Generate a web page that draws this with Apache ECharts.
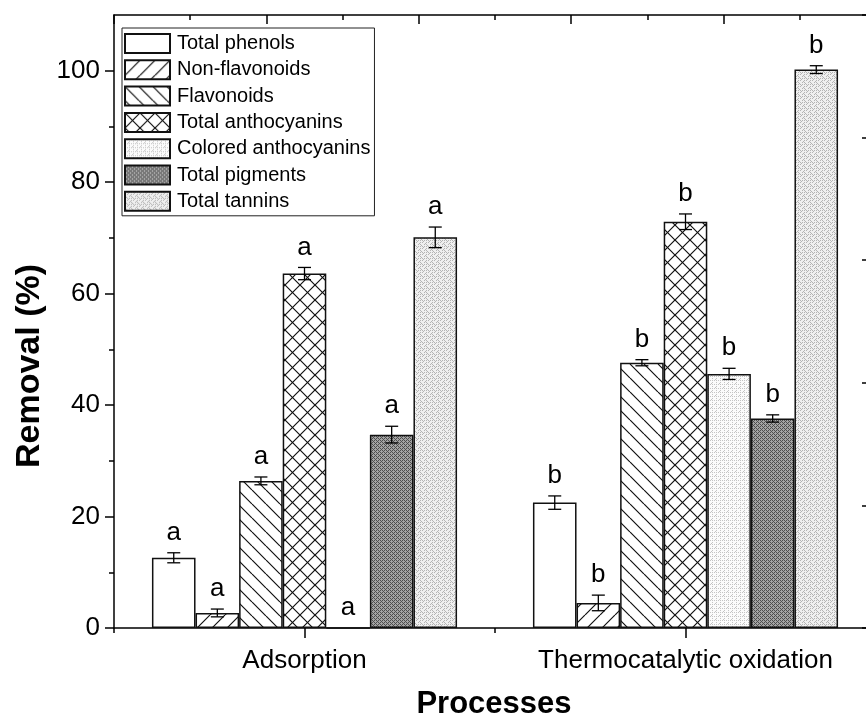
<!DOCTYPE html>
<html>
<head>
<meta charset="utf-8">
<script src="https://cdn.jsdelivr.net/npm/echarts@6/dist/echarts.min.js"></script>
<style>
  html, body { margin: 0; padding: 0; background: #fff; }
  #chart { width: 866px; height: 720px; }
</style>
</head>
<body>
<div id="chart"></div>
<script>
// Processes on the category axis
const processes = ['Adsorption', 'Thermocatalytic oxidation'];

// Removal (%) for each fraction: [Adsorption, Thermocatalytic oxidation]
const totalPhenols        = [12.6, 22.5];
const nonFlavonoids       = [2.7, 4.5];
const flavonoids          = [26.4, 47.6];
const totalAnthocyanins   = [63.6, 72.9];
const coloredAnthocyanins = [0.0, 45.6];
const totalPigments       = [34.7, 37.6];
const totalTannins        = [70.1, 100.2];

// Standard deviations
const sdPhenols        = [0.9, 1.2];
const sdNonFlavonoids  = [0.7, 1.4];
const sdFlavonoids     = [0.7, 0.55];
const sdAnthocyanins   = [1.1, 1.4];
const sdColored        = [0.0, 1.0];
const sdPigments       = [1.5, 0.65];
const sdTannins        = [1.85, 0.7];

// Significance letters per process
const significance = ['a', 'b'];

// Axis ticks
const yMajorTicks = [0, 20, 40, 60, 80, 100];
const yMinorTicks = [10, 30, 50, 70, 90];
const xCenterTicks = [0.5, 1.5];     // category centres on a 0..2 scale
const xBoundaryTicks = [0, 1, 2];    // category boundaries

const seriesNames = ['Total phenols', 'Non-flavonoids', 'Flavonoids', 'Total anthocyanins',
  'Colored anthocyanins', 'Total pigments', 'Total tannins'];
const seriesValues = [totalPhenols, nonFlavonoids, flavonoids, totalAnthocyanins,
  coloredAnthocyanins, totalPigments, totalTannins];
const seriesSd = [sdPhenols, sdNonFlavonoids, sdFlavonoids, sdAnthocyanins,
  sdColored, sdPigments, sdTannins];

const FONT = "'Liberation Sans', Arial, sans-serif";
const BAR_FRAC = 0.1144;   // bar width as a fraction of the category band

// ---- fill patterns ----
function pattern(size, draw) {
  const c = document.createElement('canvas');
  c.width = size; c.height = size;
  const ctx = c.getContext('2d');
  draw(ctx, size);
  return { image: c, repeat: 'repeat' };
}
function hatch(ctx, s, dir) {
  ctx.strokeStyle = '#111';
  ctx.lineWidth = 1.2;
  ctx.beginPath();
  for (let o = -s; o <= s; o += s) {
    if (dir > 0) { ctx.moveTo(o, s); ctx.lineTo(o + s, 0); }
    else { ctx.moveTo(o, 0); ctx.lineTo(o + s, s); }
  }
  ctx.stroke();
}
function dots(ctx, s, bg, fg, cells) {
  ctx.fillStyle = bg; ctx.fillRect(0, 0, s, s);
  ctx.fillStyle = fg;
  cells.forEach(([x, y]) => ctx.fillRect(x, y, 1, 1));
}
const fills = [
  '#ffffff',
  pattern(15, (ctx, s) => { ctx.fillStyle = '#fff'; ctx.fillRect(0, 0, s, s); hatch(ctx, s, 1); }),
  pattern(14, (ctx, s) => { ctx.fillStyle = '#fff'; ctx.fillRect(0, 0, s, s); hatch(ctx, s, -1); }),
  pattern(15, (ctx, s) => { ctx.fillStyle = '#fff'; ctx.fillRect(0, 0, s, s); hatch(ctx, s, 1); hatch(ctx, s, -1); }),
  pattern(8, (ctx, s) => dots(ctx, s, '#fbfbfb', '#c4c4c4',
    [[0, 0], [2, 0], [4, 0], [6, 0], [0, 2], [4, 2], [0, 4], [2, 4], [4, 4], [6, 4], [0, 6], [4, 6], [3, 3], [7, 7]])),
  pattern(4, (ctx, s) => dots(ctx, s, '#a4a4a4', '#4e4e4e',
    [[0, 0], [2, 0], [1, 1], [0, 2], [2, 2], [3, 3]])),
  pattern(6, (ctx, s) => dots(ctx, s, '#efefef', '#b4b4b4',
    [[0, 0], [2, 0], [4, 0], [0, 2], [0, 4], [2, 2], [4, 4], [3, 1], [5, 3], [1, 5]]))
];

// ---- series ----
const series = seriesNames.map((name, i) => ({
  type: 'bar',
  name: name,
  data: seriesValues[i],
  xAxisIndex: 0,
  yAxisIndex: 0,
  barWidth: (BAR_FRAC * 100).toFixed(2) + '%',
  barGap: '0%',
  itemStyle: { color: fills[i], borderColor: '#111', borderWidth: 1.5 },
  emphasis: { disabled: true }
}));

// error bars and significance letters
const errData = [];
seriesNames.forEach((name, si) => {
  processes.forEach((p, ci) => {
    errData.push([ci, si, seriesValues[si][ci], seriesSd[si][ci]]);
  });
});
series.push({
  type: 'custom',
  name: 'error',
  xAxisIndex: 0,
  yAxisIndex: 0,
  z: 5,
  clip: false,
  data: errData,
  encode: { x: 0, y: 2 },
  renderItem: function (params, api) {
    const ci = api.value(0), si = api.value(1), mean = api.value(2), sd = api.value(3);
    const center = api.coord([ci, mean]);
    const band = api.size([1, 0])[0];
    const bw = band * BAR_FRAC;
    const x = center[0] + (si - 3) * bw;
    const yTop = api.coord([ci, mean + sd])[1];
    const yBot = api.coord([ci, mean - sd])[1];
    const cap = 6.5;
    const style = { stroke: '#000', lineWidth: 1.3 };
    const children = [];
    if (sd > 0) {
      children.push(
        { type: 'line', shape: { x1: x, y1: yTop, x2: x, y2: yBot }, style: style },
        { type: 'line', shape: { x1: x - cap, y1: yTop, x2: x + cap, y2: yTop }, style: style },
        { type: 'line', shape: { x1: x - cap, y1: yBot, x2: x + cap, y2: yBot }, style: style }
      );
    }
    children.push({
      type: 'text',
      style: {
        text: significance[ci], x: x, y: yTop - 20,
        font: '26px ' + FONT, fill: '#000', align: 'center', verticalAlign: 'middle'
      }
    });
    return { type: 'group', children: children };
  }
});

const axisLineStyle = { color: '#000', width: 1.5 };

const option = {
  animation: false,
  backgroundColor: '#fff',
  grid: { left: 114, top: 15, width: 762, height: 613, outerBoundsMode: 'none' },
  legend: {
    data: seriesNames,
    orient: 'vertical',
    left: 122,
    top: 28,
    padding: [5, 4, 4, 2],
    itemWidth: 45,
    itemHeight: 19,
    itemGap: 5.3,
    icon: 'rect',
    selectedMode: false,
    borderColor: '#222',
    borderWidth: 1,
    itemStyle: { borderColor: '#111', borderWidth: 2 },
    textStyle: { fontSize: 20, color: '#000', fontFamily: FONT, lineHeight: 19, padding: [0, 0, 0, 2] }
  },
  xAxis: [
    {
      type: 'category', data: processes, position: 'bottom',
      axisLine: { onZero: false, lineStyle: axisLineStyle },
      axisTick: { show: false },
      axisLabel: { interval: 0, hideOverlap: false, fontSize: 26, color: '#000', fontFamily: FONT, margin: 20 },
      splitLine: { show: false }
    },
    {
      type: 'value', position: 'bottom', min: 0, max: 2,
      axisLine: { show: false, onZero: false },
      axisTick: { show: true, length: 5, customValues: xBoundaryTicks, lineStyle: axisLineStyle },
      axisLabel: { show: false }, splitLine: { show: false }
    },
    {
      type: 'value', position: 'bottom', min: 0, max: 2,
      axisLine: { show: false, onZero: false },
      axisTick: { show: true, length: 10, customValues: xCenterTicks, lineStyle: axisLineStyle },
      axisLabel: { show: false }, splitLine: { show: false }
    },
    {
      type: 'value', position: 'top', min: 0, max: 5, interval: 1,
      axisLine: { show: true, onZero: false, lineStyle: axisLineStyle },
      axisTick: { show: true, inside: true, length: 9, lineStyle: axisLineStyle },
      minorTick: { show: true, splitNumber: 2, length: 5, lineStyle: axisLineStyle },
      axisLabel: { show: false }, splitLine: { show: false }
    }
  ],
  yAxis: [
    {
      type: 'value', min: 0, max: 110, position: 'left',
      axisLine: { show: true, onZero: false, lineStyle: axisLineStyle },
      axisTick: { show: true, length: 9, customValues: yMajorTicks, lineStyle: axisLineStyle },
      axisLabel: { customValues: yMajorTicks, fontSize: 26, color: '#000', fontFamily: FONT, margin: 14 },
      splitLine: { show: false }
    },
    {
      type: 'value', min: 0, max: 110, position: 'left',
      axisLine: { show: false, onZero: false },
      axisTick: { show: true, length: 5, customValues: yMinorTicks, lineStyle: axisLineStyle },
      axisLabel: { show: false }, splitLine: { show: false }
    },
    {
      type: 'value', min: 0, max: 5, interval: 1, position: 'right',
      axisLine: { show: true, onZero: false, lineStyle: axisLineStyle },
      axisTick: { show: true, inside: true, length: 14, lineStyle: axisLineStyle },
      axisLabel: { show: false }, splitLine: { show: false }
    }
  ],
  graphic: [
    {
      type: 'text', x: 30, y: 366, rotation: Math.PI / 2,
      style: { text: 'Removal (%)', font: 'bold 34px ' + FONT, fill: '#000', align: 'center', verticalAlign: 'middle' }
    },
    {
      type: 'text', x: 494, y: 704,
      style: { text: 'Processes', font: 'bold 31px ' + FONT, fill: '#000', align: 'center', verticalAlign: 'middle' }
    }
  ],
  series: series
};

const chart = echarts.init(document.getElementById('chart'), null, { renderer: 'canvas' });
chart.setOption(option);
</script>
</body>
</html>
